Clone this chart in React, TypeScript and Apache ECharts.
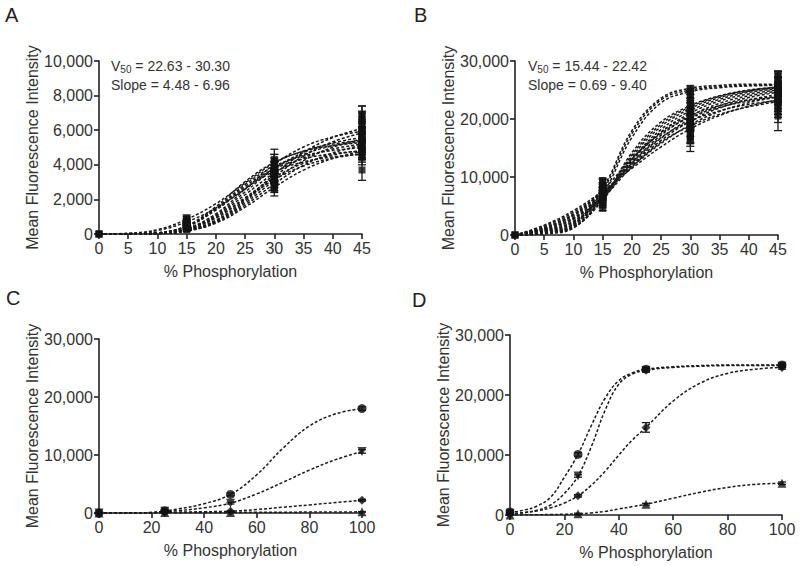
import React, { useEffect, useRef } from "react";
import * as echarts from "echarts";

const FONT = "'Liberation Sans', Arial, Helvetica, sans-serif";

// ---------- Panel A ----------
const xA = [0, 5, 10, 15, 20, 25, 30, 35, 40, 45];
const curvesA = [
  [0, 2, 60, 418, 1378, 2645, 3614, 4166, 4454, 4603],
  [0, 2, 64, 453, 1492, 2865, 3916, 4514, 4826, 4987],
  [0, 2, 68, 479, 1579, 3031, 4142, 4774, 5104, 5275],
  [0, 1, 36, 261, 949, 2106, 3271, 4087, 4560, 4826],
  [0, 1, 39, 281, 1022, 2268, 3522, 4402, 4911, 5197],
  [0, 1, 41, 301, 1095, 2430, 3774, 4716, 5262, 5568],
  [0, 1, 44, 321, 1168, 2592, 4026, 5030, 5613, 5939],
  [0, 1, 25, 188, 722, 1779, 3100, 4241, 5010, 5481],
  [0, 1, 27, 200, 768, 1894, 3300, 4514, 5333, 5834],
  [0, 1, 28, 209, 803, 1980, 3450, 4720, 5575, 6100],
  [0, 1, 24, 176, 675, 1665, 2900, 3967, 4686, 5127],
  [0, 1, 35, 251, 913, 2025, 3145, 3930, 4385, 4640],
  [0, 2, 62, 436, 1435, 2755, 3765, 4340, 4640, 4795],
  [0, 1, 22, 164, 629, 1550, 2700, 3694, 4363, 4774],
  [0, 40, 250, 850, 1750, 2950, 4100, 4800, 5200, 5400],
  [0, 30, 200, 700, 1500, 2600, 3800, 4600, 5100, 5350],
];
const ptsA0 = [0, 0, 0];
const ptsA15 = [250, 300, 350, 400, 420, 450, 480, 500, 530, 560, 600, 650, 700, 750, 800, 900, 380, 520];
const errA15 = [100, 80, 100, 120, 100, 80, 100, 120, 100, 80, 100, 120, 150, 150, 200, 200, 90, 110];
const ptsA30 = [2600, 2800, 2900, 3000, 3100, 3200, 3300, 3400, 3500, 3600, 3700, 3800, 3900, 4000, 4100, 4200, 3250, 3550, 2700, 4300];
const errA30 = [400, 300, 250, 300, 200, 300, 250, 300, 200, 250, 300, 350, 300, 400, 500, 700, 200, 250, 300, 300];
const ptsA45 = [3700, 4400, 4700, 4900, 5000, 5200, 5300, 5400, 5500, 5600, 5800, 6000, 6200, 6400, 6600, 6800, 5100, 5700, 4550, 6900];
const errA45 = [600, 400, 300, 500, 400, 300, 600, 400, 500, 300, 400, 500, 400, 600, 500, 600, 350, 450, 400, 500];

// ---------- Panel B ----------
const xB = [0, 5, 10, 15, 20, 25, 30, 35, 40, 45];
const curvesB = [
  [0, 300, 1600, 7600, 17500, 23300, 25000, 25600, 25800, 25900],
  [0, 200, 1200, 7000, 16800, 22800, 24700, 25400, 25700, 25800],
  [0, 400, 1900, 8000, 18000, 23600, 25300, 25800, 26000, 26000],
  [0, 1700, 4200, 7600, 11500, 15200, 18300, 20600, 22200, 23300],
  [0, 1500, 3900, 7400, 11800, 15800, 19000, 21300, 22800, 23800],
  [0, 1300, 3600, 7300, 12000, 16300, 19600, 21900, 23300, 24200],
  [0, 1100, 3300, 7100, 12200, 16700, 20000, 22300, 23700, 24600],
  [0, 900, 3000, 7000, 12500, 17200, 20500, 22700, 24000, 24800],
  [0, 800, 2700, 6800, 12800, 17700, 21000, 23100, 24300, 25000],
  [0, 700, 2400, 6700, 13100, 18200, 21400, 23400, 24600, 25200],
  [0, 600, 2100, 6600, 13500, 18700, 21800, 23700, 24800, 25400],
  [0, 500, 1800, 6400, 13800, 19100, 22100, 23900, 24900, 25500],
  [0, 400, 1500, 6200, 14200, 19500, 22300, 24000, 25000, 25500],
  [0, 1000, 2900, 6500, 11700, 16000, 18800, 20800, 22100, 23000],
  [0, 600, 2300, 6300, 12400, 16800, 19600, 21400, 22500, 23200],
  [0, 350, 1300, 6000, 13000, 17800, 20600, 22300, 23300, 23900],
  [0, 1200, 3500, 7700, 13200, 17500, 20300, 22000, 23100, 23800],
];
const ptsB0 = [0, 0, 0];
const ptsB15 = [4600, 5200, 5600, 6000, 6300, 6600, 6800, 7000, 7200, 7400, 7600, 7900, 8200, 8600, 9000, 9400, 6500, 7100, 7700];
const errB15 = [400, 500, 400, 500, 300, 400, 500, 300, 400, 500, 400, 300, 500, 400, 600, 400, 300, 400, 500];
const ptsB30 = [16200, 16800, 17500, 18200, 18800, 19300, 19800, 20300, 20800, 21300, 21800, 22300, 22800, 23500, 24200, 24800, 25300, 20000, 17000, 19000];
const errB30 = [1800, 1500, 1500, 1200, 1000, 800, 1200, 1000, 900, 800, 1000, 900, 800, 700, 600, 500, 400, 1000, 1200, 900];
const ptsB45 = [20500, 21200, 21800, 22300, 23000, 23500, 24000, 24400, 24800, 25200, 25500, 25900, 26300, 26700, 27200, 27700, 24600, 23800, 25000, 22700];
const errB45 = [2500, 1800, 1500, 1500, 1200, 1000, 1200, 1000, 900, 1100, 1000, 1200, 1000, 1200, 1000, 600, 800, 900, 1000, 1400];

// ---------- Panels C and D ----------
const markerNames = ["circle", "downTriangle", "diamond", "triangle"];
const xPts = [0, 25, 50, 100];

const xCurveC = [0, 10, 20, 30, 40, 50, 60, 70, 80, 90, 100];
const curvesC = [
  [0, 10, 100, 700, 1600, 3200, 6600, 11200, 15000, 17100, 18000],
  [0, 10, 80, 400, 900, 1700, 3300, 5300, 7400, 9200, 10600],
  [0, 0, 50, 150, 220, 300, 600, 1000, 1400, 1800, 2200],
  [0, 0, 30, 60, 80, 100, 120, 140, 160, 180, 200],
];
const ptsC = [
  [0, 400, 3200, 18000],
  [0, 300, 1700, 10600],
  [0, 150, 300, 2200],
  [0, 100, 100, 200],
];
const errC = [
  [0, 150, 250, 300],
  [0, 100, 150, 300],
  [0, 50, 50, 150],
  [0, 30, 30, 50],
];

const xCurveD = [0, 5, 10, 15, 20, 25, 30, 35, 40, 45, 50, 60, 70, 80, 90, 100];
const curvesD = [
  [400, 800, 1500, 3000, 6300, 10100, 15000, 19500, 22400, 23700, 24300, 24700, 24900, 25000, 25000, 25000],
  [200, 400, 800, 1700, 3600, 6500, 11500, 17500, 21800, 23500, 24100, 24600, 24800, 24900, 24900, 24900],
  [200, 400, 700, 1200, 2000, 3200, 5000, 7300, 10000, 12500, 14600, 19000, 22000, 23600, 24300, 24600],
  [0, 20, 50, 80, 130, 200, 350, 600, 1000, 1400, 1800, 2800, 3800, 4600, 5100, 5300],
];
const ptsD = [
  [500, 10100, 24300, 25000],
  [300, 6500, 24100, 24800],
  [200, 3200, 14600, 24600],
  [0, 200, 1800, 5300],
];
const errD = [
  [200, 300, 300, 300],
  [100, 200, 300, 200],
  [100, 200, 800, 300],
  [50, 100, 150, 200],
];

const yTicksA = { min: 0, max: 10000, interval: 2000 };
const yTicksBCD = { min: 0, max: 30000, interval: 10000 };

const AX = "#222";
const TXT = "#333";

function fmt(v: number) {
  return Math.round(v).toLocaleString("en-US");
}

function xAxisDef(grid: number, max: number, interval: number) {
  return {
    type: "value",
    gridIndex: grid,
    min: 0,
    max,
    interval,
    name: "% Phosphorylation",
    nameLocation: "middle",
    nameGap: 29,
    nameTextStyle: { color: TXT, fontSize: 16, fontFamily: FONT },
    axisLine: { show: true, onZero: false, lineStyle: { color: AX, width: 1.6 } },
    axisTick: { show: true, length: 5, lineStyle: { color: AX, width: 1.6 } },
    axisLabel: { color: TXT, fontSize: 16, fontFamily: FONT, margin: 6 },
    splitLine: { show: false },
  };
}

function yAxisDef(grid: number, t: { min: number; max: number; interval: number }) {
  return {
    type: "value",
    gridIndex: grid,
    min: t.min,
    max: t.max,
    interval: t.interval,
    name: "Mean Fluorescence Intensity",
    nameLocation: "middle",
    nameGap: 56,
    nameTextStyle: { color: TXT, fontSize: 16, fontFamily: FONT },
    axisLine: { show: true, onZero: false, lineStyle: { color: AX, width: 1.6 } },
    axisTick: { show: true, length: 5, lineStyle: { color: AX, width: 1.6 } },
    axisLabel: { color: TXT, fontSize: 16, fontFamily: FONT, margin: 6, formatter: fmt },
    splitLine: { show: false },
  };
}

function curveSeries(grid: number, xs: number[], ys: number[]) {
  return {
    type: "line",
    xAxisIndex: grid,
    yAxisIndex: grid,
    data: xs.map((x, i) => [x, ys[i]]),
    smooth: 0.4,
    showSymbol: false,
    silent: true,
    z: 2,
    lineStyle: { color: "#1a1a1a", width: 1.5, type: [3, 2] },
  };
}

function errSeries(grid: number, data: number[][]) {
  return {
    type: "custom",
    xAxisIndex: grid,
    yAxisIndex: grid,
    silent: true,
    z: 3,
    encode: { x: 0, y: 1 },
    data,
    renderItem: (params: any, api: any) => {
      const x = api.value(0);
      const y = api.value(1);
      const e = api.value(2);
      const hi = api.coord([x, y + e]);
      const lo = api.coord([x, y - e]);
      const w = 4;
      const st = { stroke: "#1a1a1a", lineWidth: 1.3 };
      return {
        type: "group",
        children: [
          { type: "line", shape: { x1: hi[0], y1: hi[1], x2: lo[0], y2: lo[1] }, style: st },
          { type: "line", shape: { x1: hi[0] - w, y1: hi[1], x2: hi[0] + w, y2: hi[1] }, style: st },
          { type: "line", shape: { x1: lo[0] - w, y1: lo[1], x2: lo[0] + w, y2: lo[1] }, style: st },
        ],
      };
    },
  };
}

function scatterSeries(grid: number, data: number[][], symbol: string, size: number, rotate = 0) {
  return {
    type: "scatter",
    xAxisIndex: grid,
    yAxisIndex: grid,
    data,
    symbol,
    symbolSize: size,
    symbolRotate: rotate,
    silent: true,
    z: 4,
    itemStyle: { color: "#111" },
  };
}

function clusterPoints(x: number, vals: number[], errs: number[]) {
  return vals.map((v, i) => [x, v, errs[i]]);
}

export default function App() {
  const ref = useRef<HTMLDivElement>(null);
  useEffect(() => {
    document.body.style.margin = "0";
    if (!ref.current) return;
    const chart = echarts.init(ref.current, undefined, { renderer: "svg" });

    const series: any[] = [];
    // A
    curvesA.forEach((c) => series.push(curveSeries(0, xA, c)));
    const clA = [
      ...ptsA0.map((v) => [0, v, 0]),
      ...clusterPoints(15, ptsA15, errA15),
      ...clusterPoints(30, ptsA30, errA30),
      ...clusterPoints(45, ptsA45, errA45),
    ];
    series.push(errSeries(0, clA));
    series.push(scatterSeries(0, clA.map((d) => [d[0], d[1]]), "rect", 7));
    // B
    curvesB.forEach((c) => series.push(curveSeries(1, xB, c)));
    const clB = [
      ...ptsB0.map((v) => [0, v, 0]),
      ...clusterPoints(15, ptsB15, errB15),
      ...clusterPoints(30, ptsB30, errB30),
      ...clusterPoints(45, ptsB45, errB45),
    ];
    series.push(errSeries(1, clB));
    series.push(scatterSeries(1, clB.map((d) => [d[0], d[1]]), "rect", 7));
    // C and D
    const symbolFor = (k: number): [string, number, number] => {
      const m = markerNames[k];
      if (m === "circle") return ["circle", 9, 0];
      if (m === "downTriangle") return ["triangle", 9, 180];
      if (m === "diamond") return ["diamond", 9, 0];
      return ["triangle", 9, 0];
    };
    [
      { g: 2, xs: xCurveC, curves: curvesC, pts: ptsC, errs: errC },
      { g: 3, xs: xCurveD, curves: curvesD, pts: ptsD, errs: errD },
    ].forEach(({ g, xs, curves, pts, errs }) => {
      curves.forEach((c) => series.push(curveSeries(g, xs, c)));
      pts.forEach((p, k) => {
        const d = xPts.map((x, i) => [x, p[i], errs[k][i]]);
        series.push(errSeries(g, d));
        const [sym, size, rot] = symbolFor(k);
        series.push(scatterSeries(g, d.map((q) => [q[0], q[1]]), sym, size, rot));
      });
    });

    const letter = (t: string, left: number, top: number) => ({
      type: "text",
      left,
      top,
      style: { text: t, fill: "#222", fontSize: 20, fontFamily: FONT },
    });
    const ann = (left: number, top: number, v50: string, slope: string) => [
      {
        type: "text",
        left,
        top,
        style: {
          text: "{a|V}{b|50}{a| = " + v50 + "}",
          fill: TXT,
          fontFamily: FONT,
          rich: {
            a: { fontSize: 14, lineHeight: 17, fill: TXT, fontFamily: FONT },
            b: { fontSize: 10, lineHeight: 10, verticalAlign: "bottom", fill: TXT, fontFamily: FONT },
          },
        },
      },
      {
        type: "text",
        left,
        top: top + 19,
        style: { text: "Slope = " + slope, fill: TXT, fontSize: 14, fontFamily: FONT },
      },
    ];

    chart.setOption({
      animation: false,
      backgroundColor: "#fff",
      grid: [
        { left: 99, top: 61, width: 263, height: 173 },
        { left: 515, top: 61, width: 263, height: 174 },
        { left: 99, top: 339, width: 263, height: 174 },
        { left: 510, top: 335, width: 272, height: 180 },
      ],
      xAxis: [xAxisDef(0, 45, 5), xAxisDef(1, 45, 5), xAxisDef(2, 100, 20), xAxisDef(3, 100, 20)],
      yAxis: [yAxisDef(0, yTicksA), yAxisDef(1, yTicksBCD), yAxisDef(2, yTicksBCD), yAxisDef(3, yTicksBCD)],
      series,
      graphic: [
        letter("A", 5, 5),
        letter("B", 414, 5),
        letter("C", 6, 288),
        letter("D", 412, 290),
        ...ann(111, 59, "22.63 - 30.30", "4.48 - 6.96"),
        ...ann(528, 59, "15.44 - 22.42", "0.69 - 9.40"),
      ],
    });
    return () => chart.dispose();
  }, []);
  return <div ref={ref} style={{ width: 800, height: 566 }} />;
}
